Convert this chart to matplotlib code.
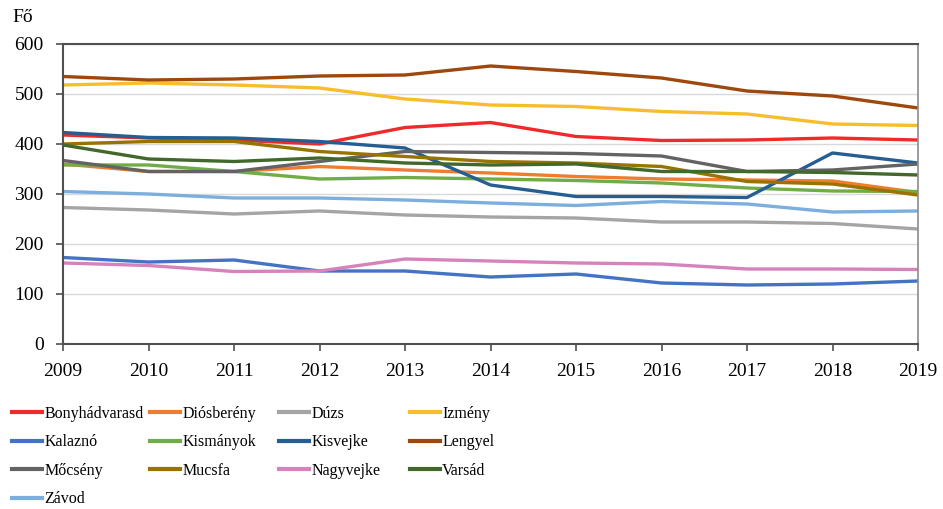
import matplotlib.pyplot as plt
from matplotlib.lines import Line2D

plt.rcParams['font.family'] = ['Liberation Serif', 'DejaVu Serif']

years = list(range(2009, 2020))

names = ['Bonyhádvarasd', 'Diósberény', 'Dúzs', 'Izmény', 'Kalaznó', 'Kismányok',
         'Kisvejke', 'Lengyel', 'Mőcsény', 'Mucsfa', 'Nagyvejke', 'Varsád', 'Závod']

bonyhadvarasd = [418, 412, 408, 400, 433, 443, 415, 407, 408, 412, 408]
diosbereny = [360, 345, 345, 355, 348, 342, 335, 330, 328, 326, 303]
duzs = [273, 268, 260, 266, 258, 254, 252, 244, 244, 241, 230]
izmeny = [518, 522, 518, 512, 490, 478, 475, 465, 460, 440, 437]
kalazno = [173, 164, 168, 146, 146, 134, 140, 122, 118, 120, 126]
kismanyok = [358, 358, 345, 330, 333, 330, 327, 322, 312, 306, 305]
kisvejke = [423, 413, 412, 405, 392, 318, 295, 295, 293, 382, 362]
lengyel = [535, 528, 530, 536, 538, 556, 545, 532, 506, 496, 472]
mocseny = [367, 345, 345, 365, 385, 383, 381, 376, 345, 348, 360]
mucsfa = [400, 405, 405, 385, 375, 365, 362, 355, 325, 320, 298]
nagyvejke = [162, 157, 145, 146, 170, 166, 162, 160, 150, 150, 149]
varsad = [398, 370, 365, 372, 362, 358, 360, 345, 345, 343, 338]
zavod = [305, 300, 292, 292, 288, 282, 277, 285, 280, 264, 266]

series = [bonyhadvarasd, diosbereny, duzs, izmeny, kalazno, kismanyok, kisvejke,
          lengyel, mocseny, mucsfa, nagyvejke, varsad, zavod]

colors = ['#EE2A2A', '#ED7D31', '#A5A5A5', '#F7BD2C', '#4472C4', '#70AD47', '#255E91',
          '#9E480E', '#636363', '#997300', '#D683BC', '#43682B', '#7CAFDD']

fig = plt.figure(figsize=(9.43, 5.09), dpi=100)
ax = fig.add_axes([63/943, 1 - 344/509, (918 - 63)/943, 300/509])

for vals, c in zip(series, colors):
    ax.plot(years, vals, color=c, lw=2.4, solid_capstyle='butt')

ax.set_xlim(2009, 2019)
ax.set_ylim(0, 600)
ax.set_xticks(years)
ax.set_yticks(range(0, 601, 100))
ax.grid(axis='y', color='#D9D9D9', lw=1)
ax.set_axisbelow(True)

for s in ['left', 'bottom', 'top']:
    ax.spines[s].set_color('#505050')
    ax.spines[s].set_linewidth(1.5)
ax.spines['right'].set_color('#8C8C8C')
ax.spines['right'].set_linewidth(1.2)

ax.tick_params(axis='both', direction='out', length=5, width=1.2, color='#505050',
               labelsize=14, labelcolor='black')
ax.tick_params(axis='x', pad=9)
ax.tick_params(axis='y', pad=9)

fig.text(12/943, 1 - 17/509, 'Fő', fontsize=14, va='center', ha='left')

# legend: four columns, filled row by row
col_x = [12/943, 150/943, 279/943, 410/943]
for ci in range(4):
    idx = list(range(ci, len(names), 4))
    handles = [Line2D([], [], color=colors[i], lw=3) for i in idx]
    labels = [names[i] for i in idx]
    fig.legend(handles, labels, loc='upper left',
               bbox_to_anchor=(col_x[ci], 1 - 406/509),
               frameon=False, fontsize=11.5, handlelength=1.9,
               handletextpad=0.12, labelspacing=0.78, borderaxespad=0,
               borderpad=0)

fig.savefig('out.png', dpi=100)
